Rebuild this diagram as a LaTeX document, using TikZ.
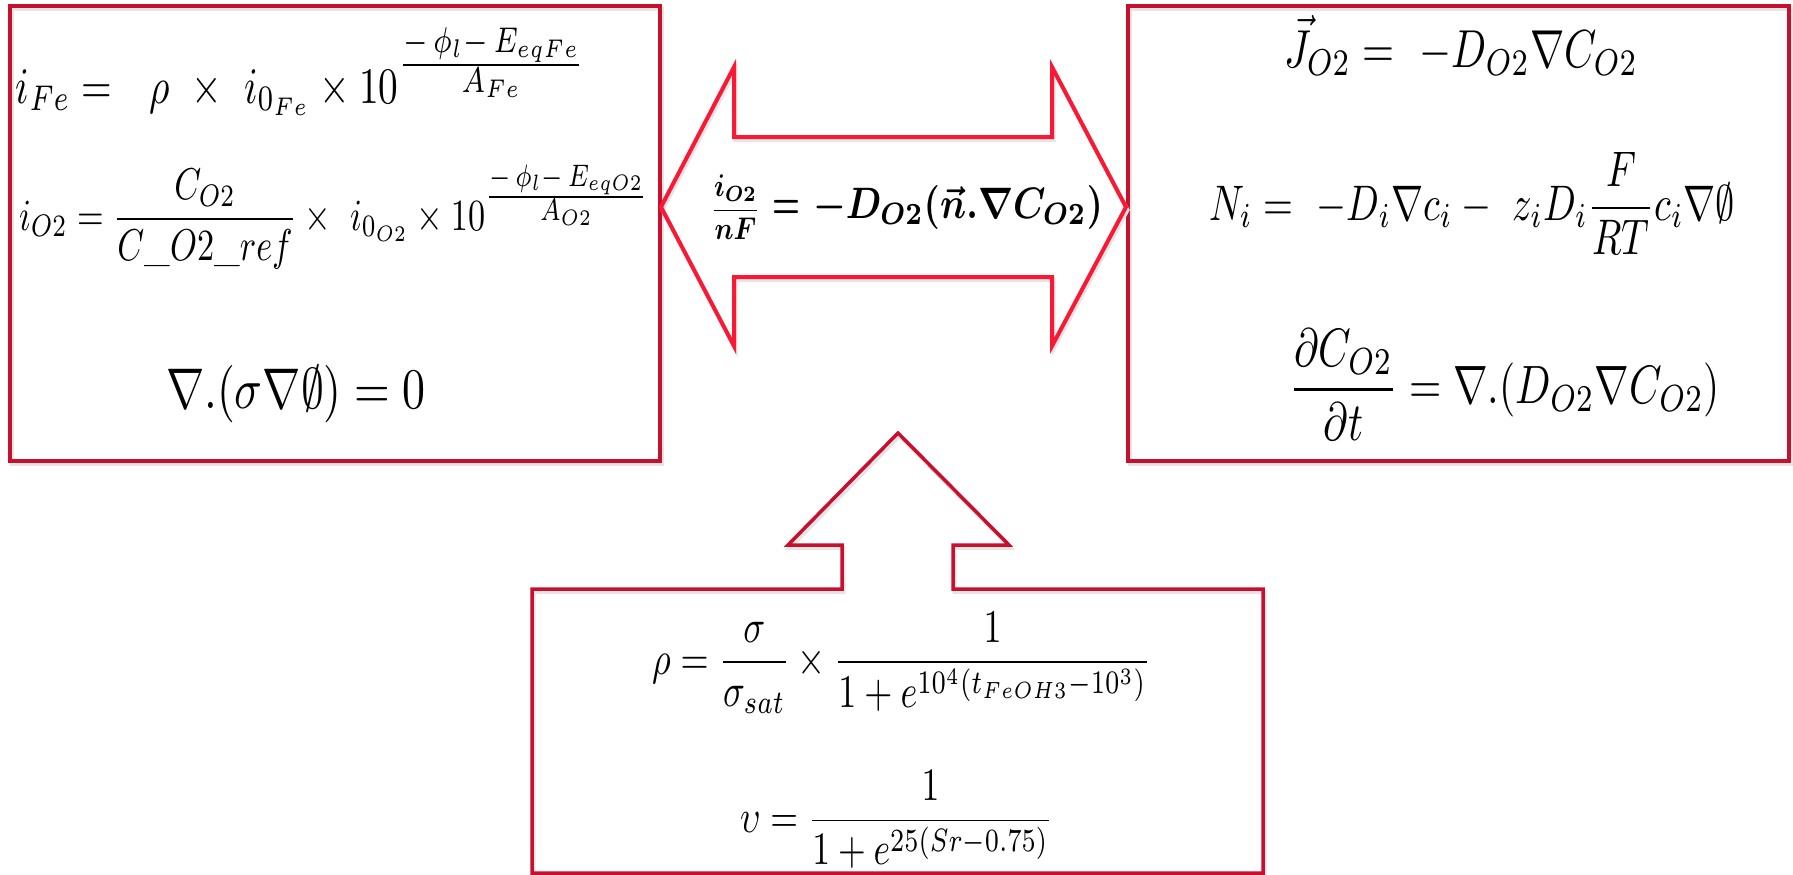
\documentclass[tikz,border=0pt]{standalone}
\usepackage{amsmath,amssymb,bm}
\usepackage{graphicx}
\usetikzlibrary{calc}
\definecolor{boxred}{RGB}{200,16,46}
\definecolor{arrowred}{RGB}{250,24,52}
\newcommand{\eqs}[3]{\scalebox{1}[#2]{\resizebox{#1}{!}{$#3$}}}
\begin{document}
\begin{tikzpicture}[x=1pt,y=-1pt,
  shadowed/.style={preaction={draw=black!10, line width=4pt, transform canvas={shift={(1.5pt,-3pt)}}}},
  boxstyle/.style={draw=boxred, line width=3.5pt, shadowed},
  arrowstyle/.style={draw=arrowred, line width=4pt, line join=miter, shadowed},
  frame/.style={rectangle, inner sep=0pt, outer sep=0pt, anchor=north west},
  eqn/.style={inner sep=0pt, outer sep=0pt, anchor=base west}]
\useasboundingbox (0,0) rectangle (1793,875);
% boxes
\node[frame, boxstyle, minimum width=650pt, minimum height=455pt] (L) at (10,6) {};
\node[frame, boxstyle, minimum width=661pt, minimum height=455pt] (R) at (1128,6) {};
\node[frame, minimum width=731pt, minimum height=284pt] (B) at (532,589) {};
% bottom box with upward arrow
\coordinate (UAtip) at (898,433);
\draw[boxstyle] (B.north west) -- (842,589) -- (842,545) -- (788,545) -- (UAtip)
  -- (1009,545) -- (953,545) -- (953,589) -- (B.north east) -- (B.south east)
  -- (B.south west) -- cycle;
% double arrow between L and R
\coordinate (DAl) at (661,207);
\coordinate (DAr) at (1126,207);
\draw[arrowstyle] (DAl) -- (734,67) -- (734,137) -- (1052,137) -- (1052,67) -- (DAr)
  -- (1052,346) -- (1052,277) -- (734,277) -- (734,346) -- cycle;
% left box equations
\node[eqn] (e1) at (16,103) {\eqs{570pt}{1.3}{i_{Fe} =\ \ \rho\ \times\ i_{0_{Fe}}\times 10^{\frac{\scriptstyle -\,\phi_l -\, E_{eqFe}}{\scriptstyle A_{Fe}}}}};
\node[eqn] (e2) at (19,230) {\eqs{630pt}{1.3}{i_{O2} = \dfrac{C_{O2}}{C\_O2\_ref}\times\ i_{0_{O2}}\times 10^{\frac{\scriptstyle -\,\phi_l -\, E_{eqO2}}{\scriptstyle A_{O2}}}}};
\node[eqn] (e3) at (166,408) {\eqs{260pt}{1.25}{\nabla.(\sigma\nabla\emptyset) = 0}};
% double arrow equation
\node[eqn] (da) at (711,218) {\resizebox{49pt}{43pt}{$\dfrac{\bm{i_{O2}}}{\bm{nF}}$}\hspace{12pt}\resizebox{28pt}{18pt}{$\bm{=}$}\hspace{13pt}\resizebox{290pt}{33pt}{$\bm{-D_{O2}(\vec{n}.\nabla C_{O2})}$}};
% right box equations
\node[eqn] (r1) at (1284,67) {\eqs{354pt}{1.3}{\vec{J}_{O2} =\ -D_{O2}\nabla C_{O2}}};
\node[eqn] (r2) at (1209,220) {\eqs{526pt}{1.3}{N_i =\ -D_i\nabla c_i -\ z_iD_i\dfrac{F}{RT}c_i\nabla\emptyset}};
\node[eqn] (r3) at (1289,403) {\eqs{431pt}{1.3}{\dfrac{\partial C_{O2}}{\partial t} = \nabla.(D_{O2}\nabla C_{O2})}};
% bottom box equations
\node[eqn] (b1) at (652,674) {\eqs{499pt}{1.3}{\rho = \dfrac{\sigma}{\sigma_{sat}}\times\dfrac{1}{1+e^{10^4(t_{FeOH3}-10^3)}}}};
\node[eqn] (b2) at (740,832) {\eqs{313pt}{1.3}{\upsilon = \dfrac{1}{1+e^{25(Sr-0.75)}}}};
\end{tikzpicture}
\end{document}
